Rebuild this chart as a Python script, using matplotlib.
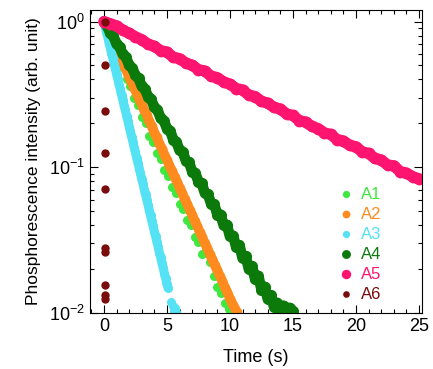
import numpy as np
import matplotlib
matplotlib.use("Agg")
from matplotlib import pyplot as plt

plt.rcParams['font.family'] = ['Liberation Sans', 'DejaVu Sans']
plt.rcParams['mathtext.default'] = 'regular'
plt.rcParams['axes.unicode_minus'] = False

# --- data (time in s, log10 of intensity) ---
t_a1 = [0, 0.3, 0.6, 0.9, 1.2, 1.5, 1.8, 2.1, 2.4, 2.7, 3.0, 3.3, 3.6, 3.9, 4.2, 4.5, 4.8,
        5.1, 5.4, 5.7, 6.0, 6.3, 6.6, 6.9, 7.2, 7.5, 7.8, 8.1, 8.4, 8.7, 9.0, 9.3, 9.6, 9.9]
log_a1 = [0, -0.060, -0.135, -0.190, -0.265, -0.315, -0.395, -0.445, -0.525, -0.575, -0.655,
          -0.700, -0.785, -0.830, -0.905, -0.945, -1.020, -1.060, -1.135, -1.175, -1.250,
          -1.290, -1.365, -1.400, -1.480, -1.515, -1.595, -1.570, -1.650, -1.745, -1.820,
          -1.860, -1.935, -1.975]

t_a2 = [0, 0.2, 0.4, 0.6, 0.8, 1.0, 1.2, 1.4, 1.6, 1.8, 2.0, 2.2, 2.4, 2.6, 2.8, 3.0, 3.2,
        3.4, 3.6, 3.8, 4.0, 4.2, 4.4, 4.6, 4.8, 5.0, 5.2, 5.4, 5.6, 5.8, 6.0, 6.2, 6.4, 6.6,
        6.8, 7.0, 7.2, 7.4, 7.6, 7.8, 8.0, 8.2, 8.4, 8.6, 8.8, 9.0, 9.2, 9.4, 9.6, 9.8, 10.0,
        10.2, 10.4, 10.55]
log_a2 = [0, -0.038, -0.078, -0.112, -0.154, -0.188, -0.230, -0.264, -0.306, -0.340, -0.382,
          -0.416, -0.458, -0.492, -0.534, -0.568, -0.610, -0.644, -0.686, -0.720, -0.762,
          -0.796, -0.838, -0.872, -0.914, -0.948, -0.990, -1.024, -1.066, -1.100, -1.142,
          -1.176, -1.218, -1.252, -1.294, -1.328, -1.370, -1.404, -1.446, -1.480, -1.522,
          -1.556, -1.598, -1.632, -1.674, -1.708, -1.750, -1.784, -1.826, -1.860, -1.902,
          -1.936, -1.970, -1.995]

t_a3 = [0, 0.1, 0.2, 0.3, 0.4, 0.5, 0.6, 0.7, 0.8, 0.9, 1.0, 1.1, 1.2, 1.3, 1.4, 1.5, 1.6,
        1.7, 1.8, 1.9, 2.0, 2.1, 2.2, 2.3, 2.4, 2.5, 2.6, 2.7, 2.8, 2.9, 3.0, 3.1, 3.2, 3.3,
        3.4, 3.5, 3.6, 3.7, 3.8, 3.9, 4.0, 4.1, 4.2, 4.3, 4.4, 4.5, 4.6, 4.7, 4.8, 4.9, 5.0,
        5.1]
log_a3 = [0, -0.034, -0.074, -0.106, -0.146, -0.178, -0.218, -0.250, -0.290, -0.322, -0.362,
          -0.394, -0.434, -0.466, -0.506, -0.538, -0.578, -0.610, -0.650, -0.682, -0.722,
          -0.754, -0.794, -0.826, -0.866, -0.898, -0.938, -0.970, -1.010, -1.042, -1.082,
          -1.114, -1.154, -1.186, -1.226, -1.258, -1.298, -1.330, -1.370, -1.402, -1.442,
          -1.474, -1.514, -1.546, -1.586, -1.618, -1.658, -1.690, -1.730, -1.762, -1.805,
          -1.830]
# last few cyan dots, separated from the band near 10^-2
t_a3_bas = [5.35, 5.45, 5.55, 5.65, 5.7]
log_a3_bas = [-1.925, -1.955, -1.985, -1.965, -1.995]

t_a4 = [0, 0.25, 0.5, 0.75, 1.0, 1.25, 1.5, 1.75, 2.0, 2.25, 2.5, 2.75, 3.0, 3.25, 3.5, 3.75,
        4.0, 4.25, 4.5, 4.75, 5.0, 5.25, 5.5, 5.75, 6.0, 6.25, 6.5, 6.75, 7.0, 7.25, 7.5, 7.75,
        8.0, 8.25, 8.5, 8.75, 9.0, 9.25, 9.5, 9.75, 10.0, 10.25, 10.5, 10.75, 11.0, 11.25,
        11.5, 11.75, 12.0, 12.25, 12.5, 12.75, 13.0, 13.25, 13.5, 13.75, 14.0, 14.25, 14.5,
        14.75, 15.0]
log_a4 = [0, -0.030, -0.080, -0.100, -0.155, -0.175, -0.225, -0.245, -0.300, -0.320, -0.370,
          -0.390, -0.445, -0.465, -0.515, -0.535, -0.590, -0.605, -0.665, -0.680, -0.735,
          -0.750, -0.810, -0.825, -0.885, -0.895, -0.955, -0.965, -1.030, -1.040, -1.100,
          -1.110, -1.175, -1.185, -1.250, -1.255, -1.325, -1.325, -1.400, -1.395, -1.475,
          -1.470, -1.550, -1.535, -1.625, -1.610, -1.700, -1.680, -1.770, -1.745, -1.840,
          -1.820, -1.905, -1.880, -1.960, -1.930, -1.985, -1.950, -1.995, -1.965, -1.990]

t_a5 = [0, 0.5, 1, 1.5, 2, 2.5, 3, 3.5, 4, 4.5, 5, 5.5, 6, 6.5, 7, 7.5, 8, 8.5, 9, 9.5, 10,
        10.5, 11, 11.5, 12, 12.5, 13, 13.5, 14, 14.5, 15, 15.5, 16, 16.5, 17, 17.5, 18, 18.5,
        19, 19.5, 20, 20.5, 21, 21.5, 22, 22.5, 23, 23.5, 24, 24.5, 25]
log_a5 = [0, -0.015, -0.030, -0.060, -0.080, -0.105, -0.125, -0.155, -0.170, -0.200, -0.210,
          -0.245, -0.255, -0.285, -0.300, -0.330, -0.340, -0.375, -0.385, -0.415, -0.430,
          -0.460, -0.470, -0.505, -0.515, -0.548, -0.560, -0.590, -0.600, -0.635, -0.645,
          -0.680, -0.690, -0.720, -0.735, -0.765, -0.775, -0.810, -0.820, -0.850, -0.860,
          -0.895, -0.905, -0.940, -0.950, -0.985, -0.990, -1.030, -1.040, -1.065, -1.080]

t_a6 = [0.05, 0.08, 0.05, 0.08, 0.08, 0.08, 0.12, 0.08, 0.12, 0.12]
i_a6 = [1.0, 0.506, 0.245, 0.126, 0.071, 0.028, 0.026, 0.0155, 0.0132, 0.0125]

labels = ['A1', 'A2', 'A3', 'A4', 'A5', 'A6']
couleurs = ['#3ee83e', '#ff8a1e', '#55e2f5', '#0b7a0b', '#ff1470', '#7a0c0c']

fig = plt.figure(figsize=(4.33, 3.69), dpi=100)
ax = fig.add_axes([0.208, 0.152, 0.767, 0.821])

def bande(t, logy, c, ms, lab, trait=0.95):
    # points tres serres dans la figure d'origine -> trait epais + points
    y = 10 ** np.array(logy)
    if trait:
        ax.plot(t, y, '-', lw=ms * trait, color=c, solid_capstyle='round')
    ax.plot(t, y, linestyle='none', marker='o', ms=ms, mew=0, color=c, label=lab)

bande(t_a1, log_a1, couleurs[0], 6.5, labels[0], trait=0)
bande(t_a2, log_a2, couleurs[1], 7, labels[1], trait=1.0)
bande(t_a3, log_a3, couleurs[2], 6.5, labels[2], trait=1.0)
ax.plot(t_a3_bas, 10 ** np.array(log_a3_bas), linestyle='none', marker='o', ms=6.5, mew=0,
        color=couleurs[2])
bande(t_a4, log_a4, couleurs[3], 8, labels[3])
bande(t_a5, log_a5, couleurs[4], 8.5, labels[4])
ax.plot(t_a6, i_a6, linestyle='none', marker='o', ms=6, mew=0, color=couleurs[5],
        label=labels[5])

ax.set_yscale('log')
ax.set_xlim(-1.1, 25.25)
ax.set_ylim(0.01, 1.2)
ax.set_xticks([0, 5, 10, 15, 20, 25])
ax.set_xticks(range(-1, 26), minor=True)

ax.tick_params(which='both', direction='in', top=True, right=True, labelsize=13)
ax.tick_params(which='major', length=6, width=0.8)
ax.tick_params(which='minor', length=3, width=0.8)
for s in ax.spines.values():
    s.set_linewidth(0.8)

ax.set_xlabel('Time (s)', fontsize=13, labelpad=10)
ax.set_ylabel('Phosphorescence intensity (arb. unit)', fontsize=12.5, labelpad=6)

leg = ax.legend(loc='lower left', bbox_to_anchor=(0.70, -0.015), frameon=False,
                fontsize=12, handletextpad=0.4, labelspacing=0.3, handlelength=1.0,
                markerscale=0.8, labelcolor=couleurs)

fig.savefig('out.png', dpi=100)
